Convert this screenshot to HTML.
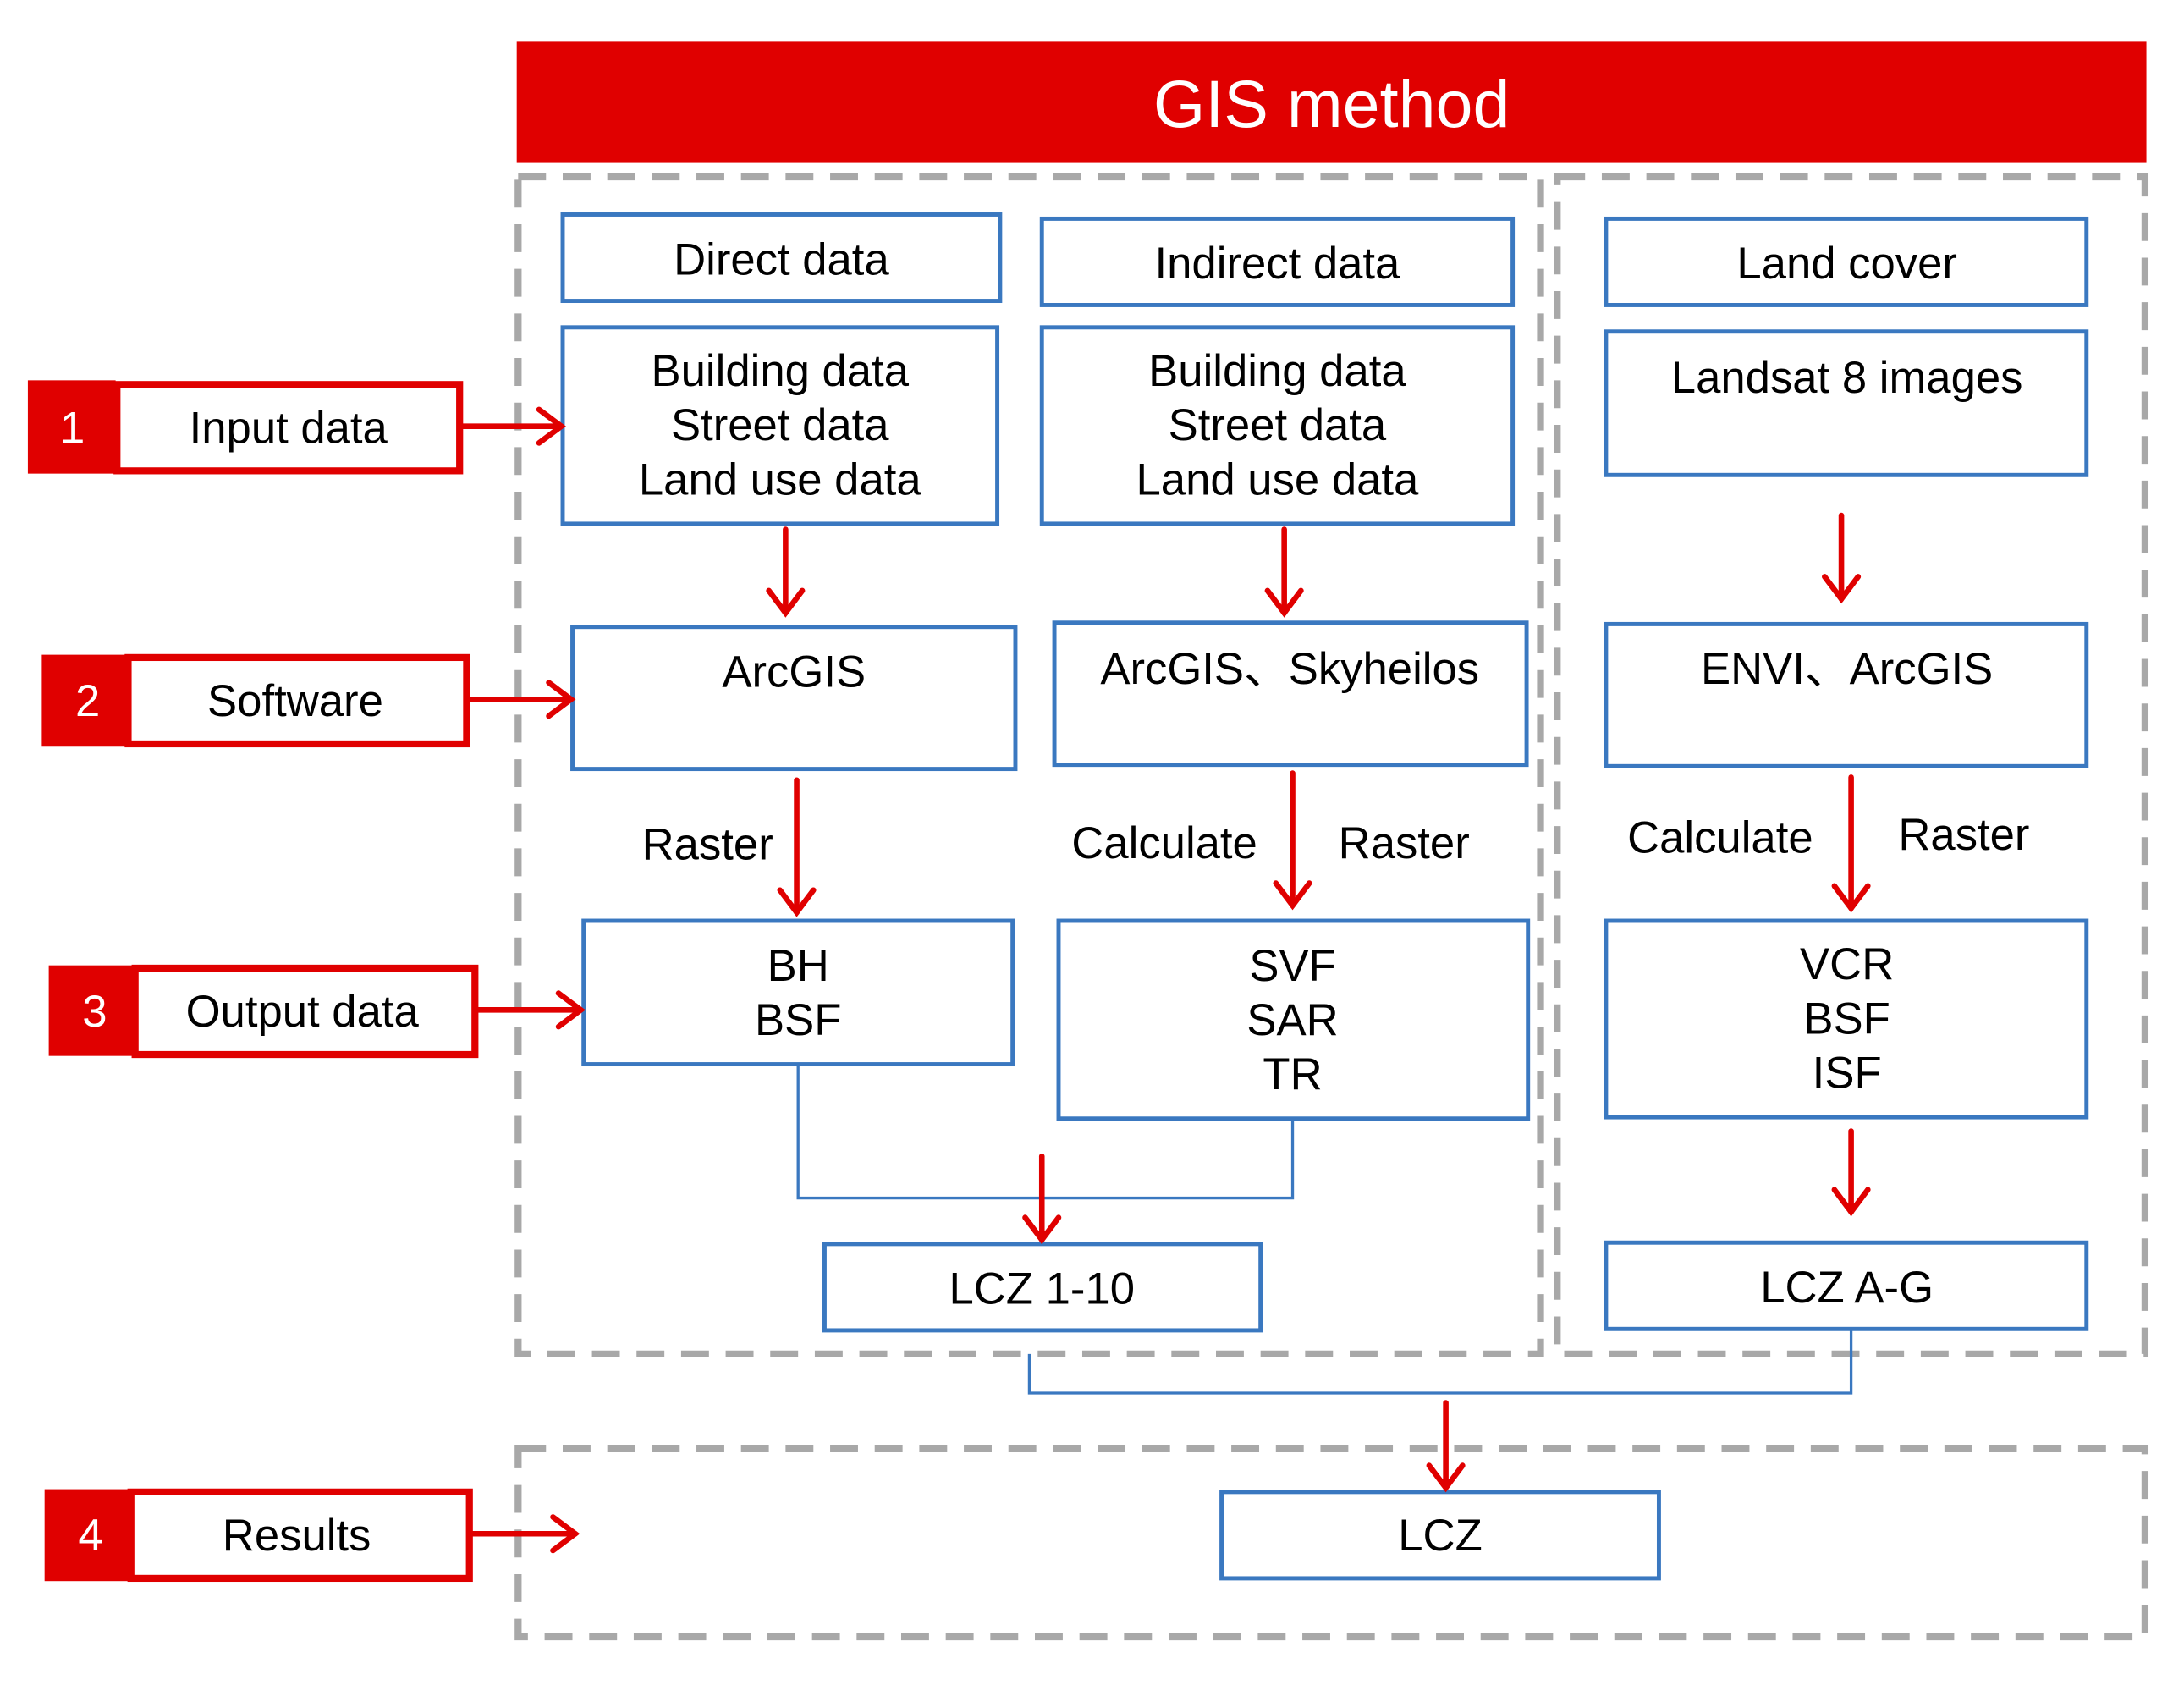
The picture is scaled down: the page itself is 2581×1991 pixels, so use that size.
<!DOCTYPE html>
<html><head><meta charset="utf-8"><style>html,body{margin:0;padding:0;background:#fff}svg{display:block}</style></head>
<body>
<svg width="2581" height="1991" viewBox="0 0 1568 1209.6" preserveAspectRatio="none" xmlns="http://www.w3.org/2000/svg" font-family="Liberation Sans, sans-serif">
<defs>
<marker id="ah" markerWidth="8" markerHeight="8" refX="6" refY="4" orient="auto" markerUnits="userSpaceOnUse" viewBox="0 0 8 8">
</marker>
</defs>
<rect x="371" y="30" width="1170" height="87" fill="#e00000"/>
<text x="956" y="91" fill="#fff" font-size="48" text-anchor="middle">GIS method</text>
<g fill="none" stroke="#a8a8a8" stroke-width="5" stroke-dasharray="20,12">
<rect x="372" y="127" width="734" height="845"/>
<rect x="1118" y="127" width="422" height="845"/>
<rect x="372" y="1040" width="1168" height="135"/>
</g>
<g fill="#fff" stroke="#3a78c0" stroke-width="3">
<rect x="404" y="154" width="314" height="62"/>
<rect x="748" y="157" width="338" height="62"/>
<rect x="1153" y="157" width="345" height="62"/>
<rect x="404" y="235" width="312" height="141"/>
<rect x="748" y="235" width="338" height="141"/>
<rect x="1153" y="238" width="345" height="103"/>
<rect x="411" y="450" width="318" height="102"/>
<rect x="757" y="447" width="339" height="102"/>
<rect x="1153" y="448" width="345" height="102"/>
<rect x="419" y="661" width="308" height="103"/>
<rect x="760" y="661" width="337" height="142"/>
<rect x="1153" y="661" width="345" height="141"/>
<rect x="592" y="893" width="313" height="62"/>
<rect x="1153" y="892" width="345" height="62"/>
<rect x="877" y="1071" width="314" height="62"/>
</g>
<g fill="none" stroke="#3a78c0" stroke-width="2">
<polyline points="573,764 573,860 928,860 928,803"/>
<polyline points="739,972 739,1000 1329,1000 1329,954"/>
</g>
<g font-size="32" text-anchor="middle" fill="#000">
<text x="561" y="197">Direct data</text>
<text x="917" y="200">Indirect data</text>
<text x="1326" y="200">Land cover</text>
<text x="560" y="277">Building data</text><text x="560" y="316">Street data</text><text x="560" y="355">Land use data</text>
<text x="917" y="277">Building data</text><text x="917" y="316">Street data</text><text x="917" y="355">Land use data</text>
<text x="1326" y="282">Landsat 8 images</text>
<text x="570" y="493">ArcGIS</text>
<text x="926" y="491">ArcGIS、Skyheilos</text>
<text x="1326" y="491">ENVI、ArcGIS</text>
<text x="573" y="704">BH</text><text x="573" y="743">BSF</text>
<text x="928" y="704">SVF</text><text x="928" y="743">SAR</text><text x="928" y="782">TR</text>
<text x="1326" y="703">VCR</text><text x="1326" y="742">BSF</text><text x="1326" y="781">ISF</text>
<text x="748" y="936">LCZ 1-10</text>
<text x="1326" y="935">LCZ A-G</text>
<text x="1034" y="1113">LCZ</text>
<text x="508" y="617">Raster</text>
<text x="836" y="616">Calculate</text>
<text x="1008" y="616">Raster</text>
<text x="1235" y="612">Calculate</text>
<text x="1410" y="610">Raster</text>
</g>
<g stroke="#e00000" stroke-width="4" fill="none" stroke-linecap="round">
<line x1="564" y1="380" x2="564" y2="440"/><polyline points="552,424 564,440 576,424"/>
<line x1="922" y1="380" x2="922" y2="440"/><polyline points="910,424 922,440 934,424"/>
<line x1="1322" y1="370" x2="1322" y2="430"/><polyline points="1310,414 1322,430 1334,414"/>
<line x1="572" y1="560" x2="572" y2="655"/><polyline points="560,639 572,655 584,639"/>
<line x1="928" y1="555" x2="928" y2="650"/><polyline points="916,634 928,650 940,634"/>
<line x1="1329" y1="558" x2="1329" y2="652"/><polyline points="1317,636 1329,652 1341,636"/>
<line x1="748" y1="830" x2="748" y2="890"/><polyline points="736,874 748,890 760,874"/>
<line x1="1329" y1="812" x2="1329" y2="870"/><polyline points="1317,854 1329,870 1341,854"/>
<line x1="1038" y1="1007" x2="1038" y2="1068"/><polyline points="1026,1052 1038,1068 1050,1052"/>
<line x1="332" y1="306" x2="403" y2="306"/><polyline points="387,294 403,306 387,318"/>
<line x1="337" y1="502" x2="410" y2="502"/><polyline points="394,490 410,502 394,514"/>
<line x1="342" y1="725" x2="417" y2="725"/><polyline points="401,713 417,725 401,737"/>
<line x1="337" y1="1101" x2="413" y2="1101"/><polyline points="397,1089 413,1101 397,1113"/>
</g>
<g>
<rect x="20" y="273" width="63" height="67" fill="#e00000"/>
<rect x="84" y="276" width="246" height="62" fill="#fff" stroke="#e00000" stroke-width="5"/>
<text x="52" y="318" fill="#fff" font-size="32" text-anchor="middle">1</text>
<text x="207" y="318" font-size="32" text-anchor="middle">Input data</text>
<rect x="30" y="470" width="62" height="66" fill="#e00000"/>
<rect x="92" y="472" width="243" height="62" fill="#fff" stroke="#e00000" stroke-width="5"/>
<text x="63" y="514" fill="#fff" font-size="32" text-anchor="middle">2</text>
<text x="212" y="514" font-size="32" text-anchor="middle">Software</text>
<rect x="35" y="693" width="62" height="65" fill="#e00000"/>
<rect x="97" y="695" width="244" height="62" fill="#fff" stroke="#e00000" stroke-width="5"/>
<text x="68" y="737" fill="#fff" font-size="32" text-anchor="middle">3</text>
<text x="217" y="737" font-size="32" text-anchor="middle">Output data</text>
<rect x="32" y="1069" width="62" height="66" fill="#e00000"/>
<rect x="94" y="1071" width="243" height="62" fill="#fff" stroke="#e00000" stroke-width="5"/>
<text x="65" y="1113" fill="#fff" font-size="32" text-anchor="middle">4</text>
<text x="213" y="1113" font-size="32" text-anchor="middle">Results</text>
</g>
</svg>
</body></html>
